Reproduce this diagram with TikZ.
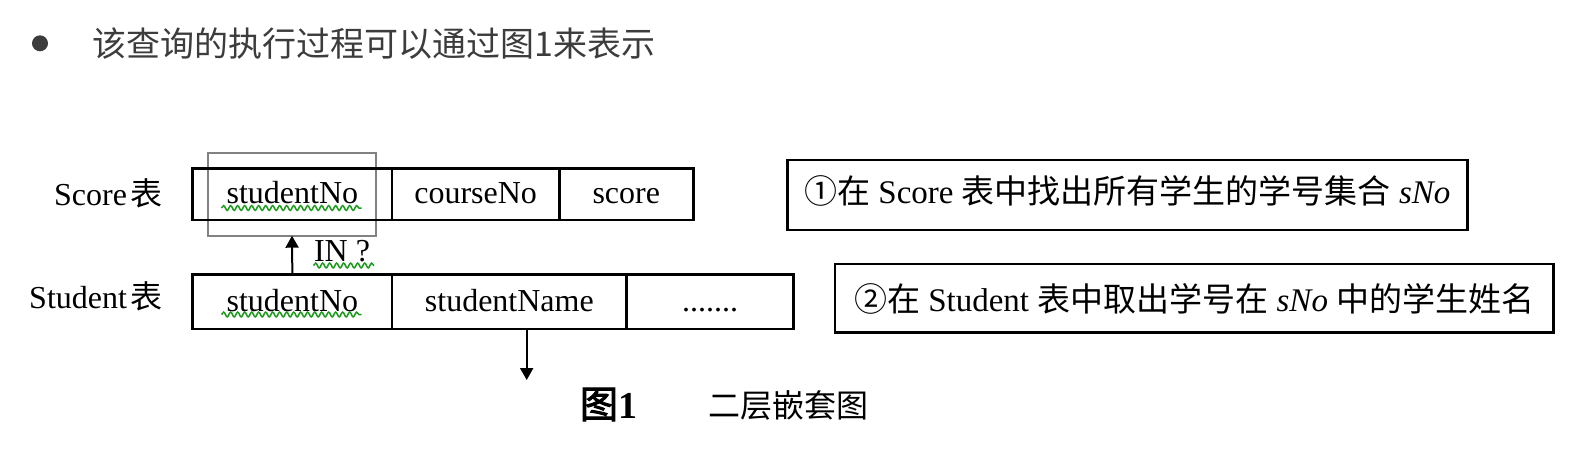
\documentclass[tikz,border=0pt]{standalone}
\usepackage{fontspec}
\setmainfont{Liberation Serif}
\newfontfamily\cjk{Noto Sans CJK SC}
\newfontfamily\cjkbold[FakeBold=2.5]{Noto Sans CJK SC}
\usetikzlibrary{arrows.meta,decorations.pathmorphing}
\definecolor{headgray}{HTML}{3C3C3C}
\definecolor{hlgray}{HTML}{828282}
\definecolor{spellgreen}{HTML}{1F9A1F}
\begin{document}
\begin{tikzpicture}[x=1pt,y=-1pt,
  every node/.style={inner sep=0pt, outer sep=0pt},
  txt/.style={font=\fontsize{32}{38}\selectfont},
  cellA/.style={draw, line width=2.5pt, anchor=north west, align=center,
    text height=35pt, text depth=16.7pt, font=\fontsize{32}{38}\selectfont},
  cellB/.style={draw, line width=2.5pt, anchor=north west, align=center,
    text height=37.4pt, text depth=17.3pt, font=\fontsize{32}{38}\selectfont},
  note/.style={draw, line width=2.5pt, anchor=north west, align=center,
    font=\fontsize{33}{40}\selectfont},
  hlbox/.style={draw=hlgray, line width=2pt, minimum width=168pt, minimum height=83pt},
  arr/.style={line width=2pt, -{Triangle[width=13pt,length=12pt]}},
  spell/.style={spellgreen, line width=1.5pt, decorate,
    decoration={snake, segment length=7pt, amplitude=2.4pt}}
]
\useasboundingbox (0,0) rectangle (1590,458);

% heading
\node[circle, fill=headgray, minimum size=16pt] (bullet) at (40,43.3) {};
\node[anchor=west, text=headgray, font=\cjk\fontsize{34}{40}\selectfont] (head) at (92.7,43.3) {该查询的执行过程可以通过图1来表示};

% highlight box
\node[hlbox] (hl) at (292,194.2) {};

% row labels
\node[anchor=base east, txt] (lblscore) at (162,205) {Score\hspace{3pt}{\cjk 表}};
\node[anchor=base east, txt] (lblstudent) at (162,308) {Student\hspace{3pt}{\cjk 表}};

% Score table
\node[cellA, minimum width=199.3pt] (sc1) at (192.7,168.3) {studentNo};
\node[cellA, minimum width=167.3pt] (sc2) at (392,168.3) {courseNo};
\node[cellA, minimum width=134pt] (sc3) at (559.3,168.3) {score};

% Student table
\node[cellB, minimum width=199.3pt] (st1) at (192.7,274.3) {studentNo};
\node[cellB, minimum width=234.7pt] (st2) at (392,274.3) {studentName};
\node[cellB, minimum width=166.6pt] (st3) at (626.7,274.3) {.......};

% IN ? label
\node[anchor=base west, txt] (inq) at (314,261.7) {IN ?};

% spell-check underlines
\draw[spell] (221.5,208) -- (361.5,208);
\draw[spell] (221.5,314.5) -- (361.5,314.5);
\draw[spell] (313.5,265.5) -- (374,265.5);

% note boxes
\node[note, minimum width=680pt, text height=43.3pt, text depth=26.7pt] (n1) at (787.3,160)
  {{\cjk ①在} Score {\cjk 表中找出所有学生的学号集合} \textit{sNo}};
\node[note, minimum width=718.3pt, text height=47.7pt, text depth=20.6pt] (n2) at (835,264)
  {{\cjk ②在} Student {\cjk 表中取出学号在} \textit{sNo} {\cjk 中的学生姓名}};

% arrows
\draw[arr] (st1.north) -- (hl.south);
\coordinate (res) at (526.7,380);
\draw[arr] (res |- st2.south) -- (res);

% caption
\node[anchor=base west, font=\fontsize{38}{44}\selectfont] (cap1) at (580,418) {{\cjkbold 图}\textbf{1}};
\node[anchor=base west, font=\cjk\fontsize{32}{38}\selectfont] (cap2) at (708,417) {二层嵌套图};
\end{tikzpicture}
\end{document}
